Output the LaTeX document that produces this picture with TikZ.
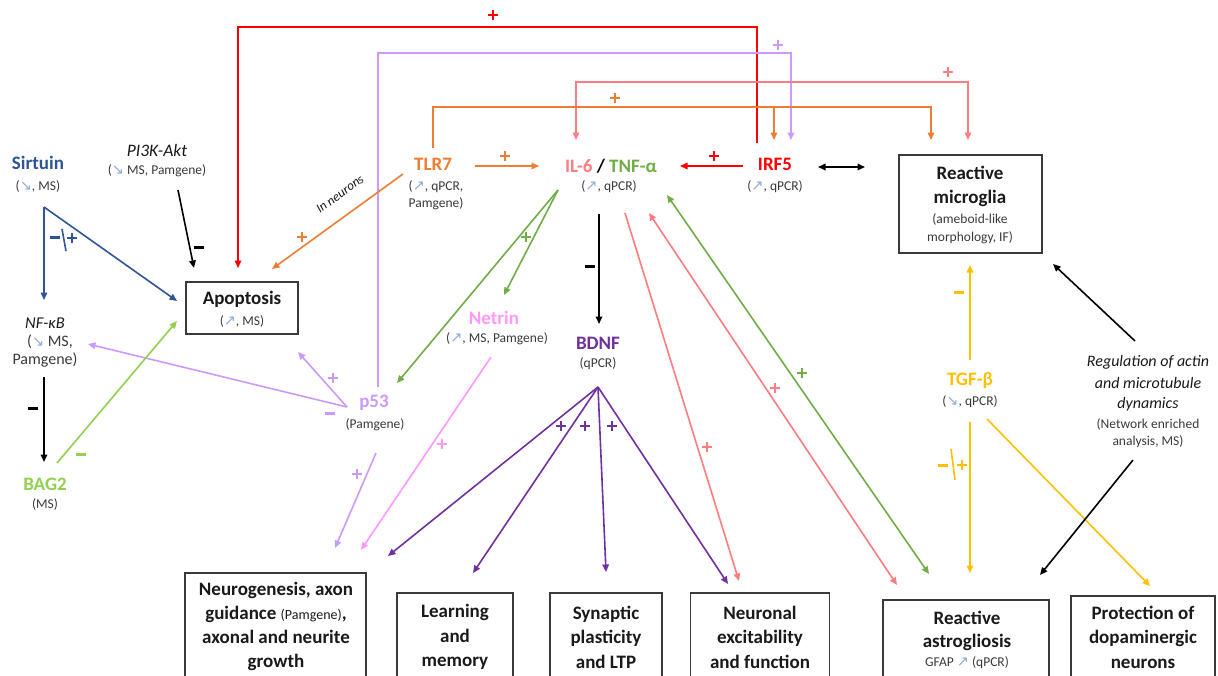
\documentclass[tikz,border=0pt]{standalone}
\usepackage{fontspec}
\setmainfont{Carlito}
\newfontfamily\dvfont{DejaVu Sans}
\usetikzlibrary{arrows.meta}
\definecolor{cBlue}{HTML}{2F5597}
\definecolor{cArr}{HTML}{8FAADC}
\definecolor{cOr}{HTML}{ED7D31}
\definecolor{cPink}{HTML}{FF7C80}
\definecolor{cGreen}{HTML}{70AD47}
\definecolor{cRed}{HTML}{FF0000}
\definecolor{cLav}{HTML}{CC99FF}
\definecolor{cNet}{HTML}{FF99FF}
\definecolor{cPurp}{HTML}{7030A0}
\definecolor{cLG}{HTML}{92D050}
\definecolor{cYel}{HTML}{FFC000}
\definecolor{cGray}{HTML}{3A3A3A}
\definecolor{cTxt}{HTML}{1A1A1A}
\newcommand\aUp{{\dvfont\color{cArr}\fontsize{14.5}{14.5}\selectfont ↗}}
\newcommand\aDn{{\dvfont\color{cArr}\fontsize{14.5}{14.5}\selectfont ↘}}
\newcommand\mns{\rule{10pt}{3pt}}
\newcommand\pls{\makebox[10pt][c]{\rule[3.6pt]{10pt}{2.8pt}}\kern-10pt\makebox[10pt][c]{\rule{2.8pt}{10pt}}}
\tikzset{
  lab/.style={font=\fontsize{19}{20}\selectfont\bfseries, inner sep=0pt},
  sub/.style={font=\fontsize{13.5}{15}\selectfont, text=cGray, inner sep=0pt},
  ital/.style={font=\fontsize{17.5}{20}\selectfont\itshape, text=cTxt, inner sep=0pt},
  boxlab/.style={font=\fontsize{19}{24.5}\selectfont\bfseries, text=cTxt, align=center, inner sep=0pt},
  bx/.style={draw=cGray, line width=1.3pt, inner sep=0pt},
  con/.style={line width=1.6pt, -{Triangle[length=7.5pt,width=6.5pt]}},
  bicon/.style={line width=1.6pt, {Triangle[length=7.5pt,width=6.5pt]}-{Triangle[length=7.5pt,width=6.5pt]}},
  sgn/.style={inner sep=0pt},
  msg/.style={inner sep=0pt},
}
\begin{document}
\begin{tikzpicture}[x=1pt,y=-1pt]
\useasboundingbox (0,0) rectangle (1218,675);
\clip (0,0) rectangle (1218,675);
\fill[white] (0,0) rectangle (1218,675);

% ---------- text nodes ----------
\node[lab, text=cBlue] (sirt) at (38,163) {Sirtuin};
\node[sub] (sirts) at (38,186) {(\aDn, MS)};
\node[ital] (pik) at (157,150) {PI3K-Akt};
\node[sub] (piks) at (157,171) {(\aDn\ MS, Pamgene)};
\node[ital, font=\fontsize{16.5}{18}\selectfont\itshape] (nfkb) at (45,323) {NF-κB};
\node[sub, font=\fontsize{16}{18}\selectfont] (nfkbs) at (50,342) {(\aDn\ MS,};
\node[sub, font=\fontsize{16}{18}\selectfont] (nfkbt) at (45,360) {Pamgene)};
\node[lab, text=cLG] (bag) at (45,484) {BAG2};
\node[sub] (bags) at (45,504) {(MS)};

\node[bx, minimum width=112, minimum height=52] (apopbox) at (242,308) {};
\node[lab, text=cTxt] (apop) at (242,299) {Apoptosis};
\node[sub] (apops) at (242,321) {(\aUp, MS)};

\node[lab, text=cOr] (tlr) at (433,164) {TLR7};
\node[sub] (tlrs) at (436,187) {(\aUp, qPCR,};
\node[sub] (tlrt) at (436,204) {Pamgene)};
\node[ital, font=\fontsize{13}{14}\selectfont\itshape, rotate=36] (inn) at (340,194) {In neurons};

\node[lab] (il) at (611,166) {{\color{cPink}IL-6} / {\color{cGreen}TNF-α}};
\node[sub] (ils) at (609,187) {(\aUp, qPCR)};
\node[lab, text=cRed] (irf) at (775,164) {IRF5};
\node[sub] (irfs) at (775,187) {(\aUp, qPCR)};

\node[bx, minimum width=143, minimum height=98] (micbox) at (970.5,204) {};
\node[lab, text=cTxt] (mic1) at (970,173) {Reactive};
\node[lab, text=cTxt] (mic2) at (970,198) {microglia};
\node[sub] (mic3) at (970,219) {(ameboid-like};
\node[sub] (mic4) at (970,238) {morphology, IF)};

\node[lab, text=cNet] (net) at (494,318) {Netrin};
\node[sub] (nets) at (497,339) {(\aUp, MS, Pamgene)};
\node[lab, text=cPurp] (bdnf) at (598,343) {BDNF};
\node[sub] (bdnfs) at (598,364) {(qPCR)};
\node[lab, text=cLav] (p53) at (374,403) {p53};
\node[sub] (p53s) at (375,425) {(Pamgene)};

\node[lab, text=cYel] (tgf) at (970,380) {TGF-β};
\node[sub] (tgfs) at (970,402) {(\aDn, qPCR)};

\node[ital, font=\fontsize{16}{18}\selectfont\itshape] (reg1) at (1148,362) {Regulation of actin};
\node[ital, font=\fontsize{16}{18}\selectfont\itshape] (reg2) at (1148,383) {and microtubule};
\node[ital, font=\fontsize{16}{18}\selectfont\itshape] (reg3) at (1148,404) {dynamics};
\node[sub] (reg4) at (1148,424) {(Network enriched};
\node[sub] (reg5) at (1148,442) {analysis, MS)};

% ---------- bottom boxes ----------
\node[bx, minimum width=181, minimum height=110] (neubox) at (275.5,628) {};
\node[boxlab, font=\fontsize{19}{24}\selectfont\bfseries] (neu) at (276,626) {Neurogenesis, axon\\guidance {\mdseries\fontsize{14}{14}\selectfont (Pamgene)},\\axonal and neurite\\growth};
\node[bx, minimum width=116, minimum height=90] (leabox) at (455,638) {};
\node[boxlab] (lea) at (455,637) {Learning\\and\\memory};
\node[bx, minimum width=112, minimum height=90] (synbox) at (606,638) {};
\node[boxlab] (syn) at (606,637) {Synaptic\\plasticity\\and LTP};
\node[bx, minimum width=139, minimum height=90] (excbox) at (760,638) {};
\node[boxlab] (exc) at (760,637) {Neuronal\\excitability\\and function};
\node[bx, minimum width=166, minimum height=84] (astbox) at (966,642) {};
\node[lab, text=cTxt] (ast1) at (967,618) {Reactive};
\node[lab, text=cTxt] (ast2) at (967,642) {astrogliosis};
\node[sub] (ast3) at (967,663) {GFAP \aUp\ (qPCR)};
\node[bx, minimum width=144, minimum height=88] (probox) at (1143,640) {};
\node[boxlab] (pro) at (1143,637) {Protection of\\dopaminergic\\neurons};

% ---------- coordinates ----------
\coordinate (irfTop) at (757,143);
\coordinate (redA) at (757,27);
\coordinate (redB) at (238,27);
\coordinate (apTop) at (238,268);
\coordinate (p53Top) at (378,387);
\coordinate (lavA) at (378,53);
\coordinate (lavB) at (791,53);
\coordinate (irfIn) at (791,140);
\coordinate (pkA) at (576,82);
\coordinate (pkB) at (968,82);
\coordinate (ilTopP) at (576,140);
\coordinate (micTopP) at (968,140);
\coordinate (tlrTop) at (433,148);
\coordinate (orA) at (433,107);
\coordinate (orM) at (774,107);
\coordinate (orB) at (931,107);
\coordinate (irfInO) at (774,140);
\coordinate (micTopO) at (931,140);

% ---------- top bracket connectors ----------
\draw[con, cRed] (irfTop) -- (redA) -- (redB) -- (apTop);
\draw[con, cLav] (p53Top) -- (lavA) -- (lavB) -- (irfIn);
\draw[bicon, cPink] (ilTopP) -- (pkA) -- (pkB) -- (micTopP);
\draw[con, cOr] (tlrTop) -- (orA) -- (orB) -- (micTopO);
\draw[con, cOr] (orM) -- (irfInO);
\node[sgn, text=cRed] (s1) at (493,15) {\pls};
\node[sgn, text=cLav] (s2) at (778,45) {\pls};
\node[sgn, text=cPink] (s3) at (948,72) {\pls};
\node[sgn, text=cOr] (s4) at (615,98) {\pls};

% ---------- horizontal connectors ----------
\coordinate (tlrR) at (475,166);
\coordinate (ilL) at (539,166);
\coordinate (irfL) at (743,166);
\coordinate (ilR) at (680,166);
\coordinate (irfR) at (818,167);
\coordinate (micL) at (865,167);
\draw[con, cOr] (tlrR) -- (ilL);
\draw[con, cRed] (irfL) -- (ilR);
\draw[bicon, black] (irfR) -- (micL);
\node[sgn, text=cOr] (s5) at (505,156) {\pls};
\node[sgn, text=cRed] (s6) at (714,156) {\pls};

% ---------- IL-6 / TNF connectors ----------
\coordinate (ilB) at (599,214);
\coordinate (bdT) at (599,324);
\draw[con, black] (ilB) -- (bdT);
\node[msg] (s7) at (590,266) {\mns};
\coordinate (tnfO) at (558,190);
\coordinate (p53In) at (397,383);
\coordinate (netIn) at (504,295);
\draw[con, cGreen] (tnfO) -- (p53In);
\draw[con, cGreen] (tnfO) -- (netIn);
\node[sgn, text=cGreen] (s8) at (526,237) {\pls};
\coordinate (ilP) at (625,213);
\coordinate (excIn) at (739,581);
\draw[con, cPink] (ilP) -- (excIn);
\node[sgn, text=cPink] (s9) at (707,447) {\pls};
\coordinate (ilP2) at (649,213);
\coordinate (astP) at (897,585);
\draw[bicon, cPink] (ilP2) -- (astP);
\node[sgn, text=cPink] (s10) at (775,388) {\pls};
\coordinate (ilG) at (667,195);
\coordinate (astG) at (929,574);
\draw[bicon, cGreen] (ilG) -- (astG);
\node[sgn, text=cGreen] (s11) at (802,373) {\pls};

% ---------- TGF-beta & regulation ----------
\coordinate (tgfT) at (970,360);
\coordinate (micB) at (970,265);
\draw[con, cYel] (tgfT) -- (micB);
\node[msg, text=cYel] (s12) at (959,292) {\mns};
\coordinate (tgfB) at (970,422);
\coordinate (astT) at (970,573);
\draw[con, cYel] (tgfB) -- (astT);
\node[msg, text=cYel] (s13) at (943,465) {\mns};
\coordinate (sl1a) at (951,449);
\coordinate (sl1b) at (955,480);
\draw[cYel, line width=1.6pt] (sl1a) -- (sl1b);
\node[sgn, text=cYel] (s14) at (962,465) {\pls};
\coordinate (tgfR) at (987,419);
\coordinate (proT) at (1150,586);
\draw[con, cYel] (tgfR) -- (proT);
\coordinate (regT) at (1135,341);
\coordinate (micBR) at (1053,264);
\draw[con, black] (regT) -- (micBR);
\coordinate (regB) at (1133,460);
\coordinate (astTR) at (1040,575);
\draw[con, black] (regB) -- (astTR);

% ---------- BDNF fan ----------
\coordinate (bdO) at (598,387);
\coordinate (neuIn1) at (388,556);
\coordinate (leaIn) at (473,573);
\coordinate (synIn) at (606,572);
\coordinate (excIn2) at (728,584);
\draw[con, cPurp] (bdO) -- (neuIn1);
\draw[con, cPurp] (bdO) -- (leaIn);
\draw[con, cPurp] (bdO) -- (synIn);
\draw[con, cPurp] (bdO) -- (excIn2);
\node[sgn, text=cPurp] (s15) at (561,426) {\pls};
\node[sgn, text=cPurp] (s16) at (585,426) {\pls};
\node[sgn, text=cPurp] (s17) at (612,426) {\pls};

% ---------- Netrin / p53 ----------
\coordinate (netO) at (491,357);
\coordinate (neuIn2) at (361,550);
\draw[con, cNet] (netO) -- (neuIn2);
\node[sgn, text=cNet] (s18) at (442,444) {\pls};
\coordinate (p53B) at (376,453);
\coordinate (neuIn3) at (335,548);
\draw[con, cLav] (p53B) -- (neuIn3);
\node[sgn, text=cLav] (s19) at (357,474) {\pls};
\coordinate (p53L) at (347,407);
\coordinate (apBR) at (298,352);
\coordinate (nfR) at (88,344);
\draw[con, cLav] (p53L) -- (apBR);
\draw[con, cLav] (p53L) -- (nfR);
\node[sgn, text=cLav] (s20) at (333,378) {\pls};
\node[msg, text=cLav] (s21) at (330,413) {\mns};

% ---------- left side ----------
\coordinate (bagO) at (57,463);
\coordinate (apBL) at (177,321);
\draw[con, cLG] (bagO) -- (apBL);
\node[msg, text=cLG] (s22) at (81,454) {\mns};
\coordinate (nfB) at (44,377);
\coordinate (bagT) at (44,462);
\draw[con, black] (nfB) -- (bagT);
\node[msg] (s23) at (33,408) {\mns};
\coordinate (sirO) at (44,207);
\coordinate (nfT) at (44,300);
\coordinate (apL) at (177,301);
\draw[con, cBlue] (sirO) -- (nfT);
\draw[con, cBlue] (sirO) -- (apL);
\node[msg, text=cBlue] (s24) at (55,237) {\mns};
\coordinate (sl2a) at (62,229);
\coordinate (sl2b) at (66,251);
\draw[cBlue, line width=1.6pt] (sl2a) -- (sl2b);
\node[sgn, text=cBlue] (s25) at (72,238) {\pls};
\coordinate (pkO) at (178,190);
\coordinate (apT2) at (194,268);
\draw[con, black] (pkO) -- (apT2);
\node[msg] (s26) at (199,247) {\mns};
\coordinate (tlrO) at (403,174);
\coordinate (apTR) at (272,269);
\draw[con, cOr] (tlrO) -- (apTR);
\node[sgn, text=cOr] (s27) at (302,237) {\pls};
\end{tikzpicture}
\end{document}
